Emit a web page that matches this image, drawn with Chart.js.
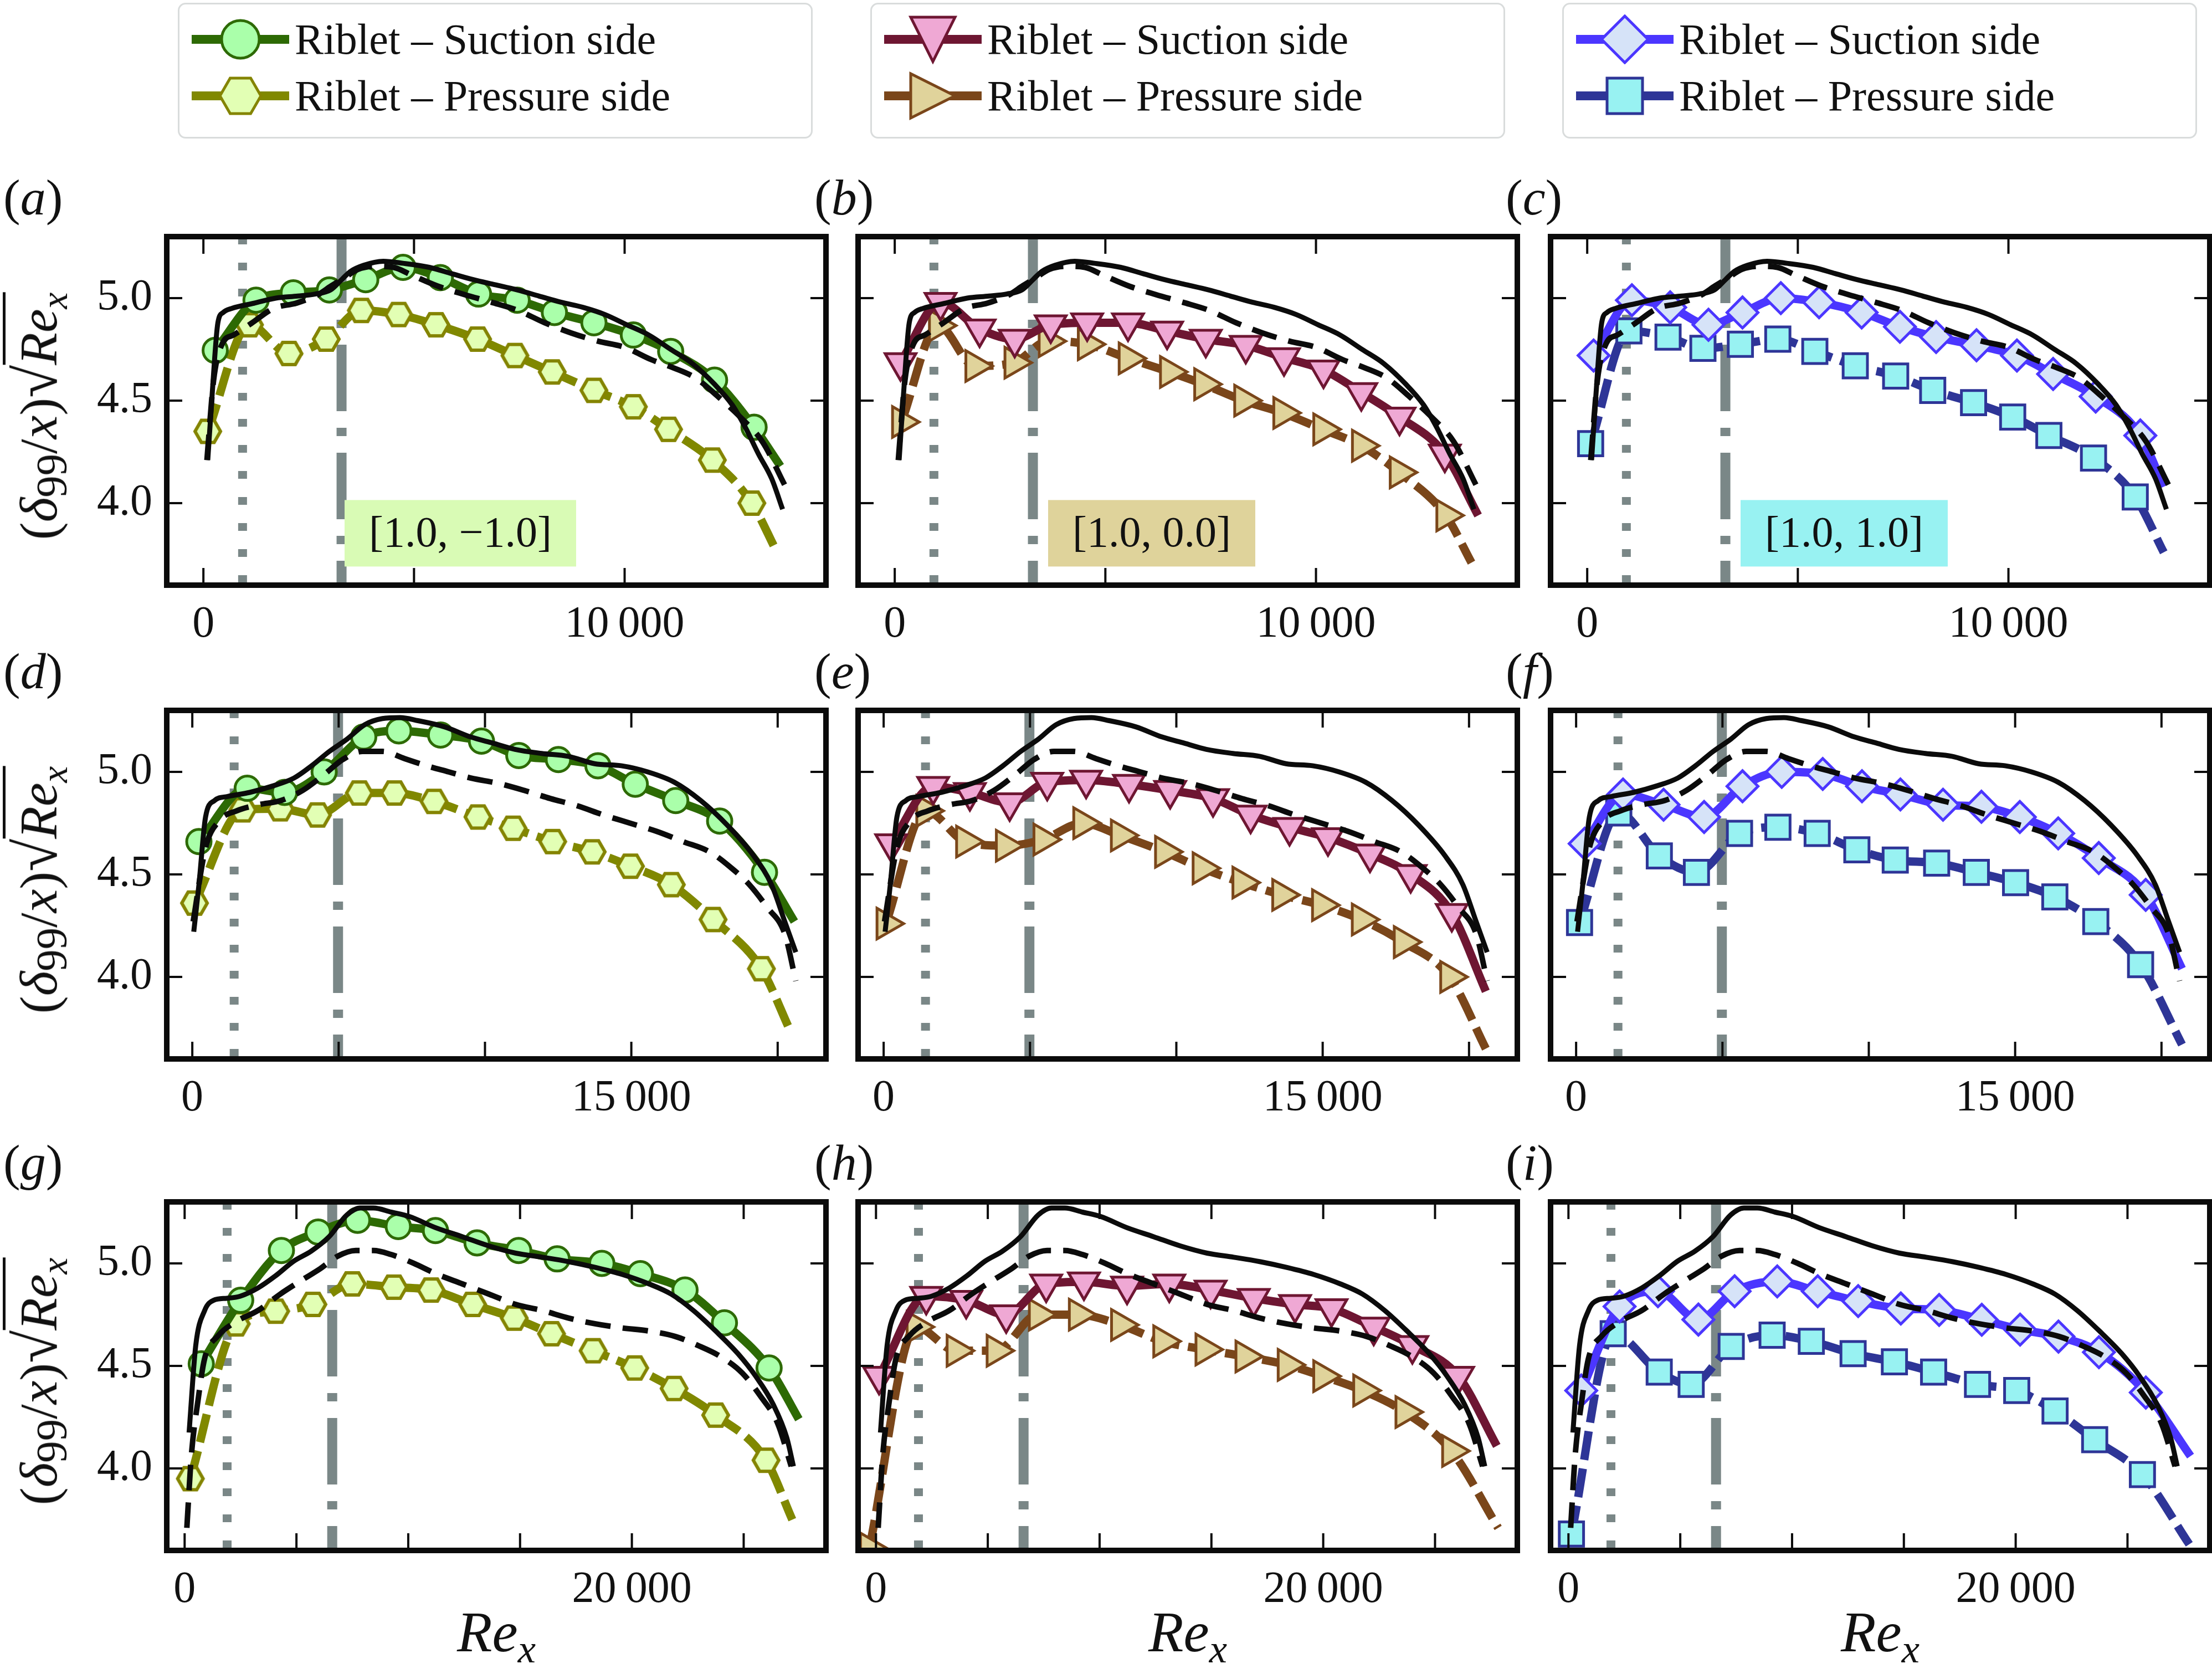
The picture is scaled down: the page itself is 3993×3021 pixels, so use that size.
<!DOCTYPE html>
<html>
<head>
<meta charset="utf-8">
<title>delta99 sqrt(Re_x) - riblets</title>
<script src="https://cdn.jsdelivr.net/npm/chart.js@4.4.1/dist/chart.umd.min.js"></script>
<style>
  html, body { margin: 0; padding: 0; background: #fff; }
  body { width: 3993px; height: 3021px; position: relative; overflow: hidden;
         font-family: 'Liberation Serif', 'DejaVu Serif', serif; color: #111; }
  canvas.pn { position: absolute; }
  .leg { position: absolute; top: 5px; width: 1146px; height: 245px; box-sizing: border-box;
         border: 3px solid #d9dcdc; border-radius: 14px; background: #fff; }
  .leg .it { position: absolute; left: 0; width: 100%; height: 90px; }
  .leg canvas { position: absolute; left: 20px; top: 0; }
  .leg span { position: absolute; left: 208px; top: 0; font-size: 78px; line-height: 90px; white-space: nowrap; }
  .plab { position: absolute; font-size: 92px; line-height: 92px; white-space: nowrap; }
  .ytit { position: absolute; font-size: 96px; line-height: 120px; white-space: nowrap;
          transform: translate(-50%, -50%) rotate(-90deg); }
  .ytit sub.n { font-size: 82%; vertical-align: -0.22em; line-height: 0; }
  .ytit sub, .xtit sub { font-size: 70%; vertical-align: -0.28em; line-height: 0; }
  .rad { font-size: 112%; }
  .ov { border-top: 5px solid #111; padding-top: 6px; }
  .xtit { position: absolute; font-size: 104px; line-height: 110px; white-space: nowrap;
          transform: translate(-50%, -50%); font-style: italic; }
</style>
</head>
<body>
<script>
// ---- axes ----
const yMin = 3.6, yMax = 5.3;
const yTicks = [4.0, 4.5, 5.0];
const yTickLabels = ['4.0', '4.5', '5.0'];

const xMin = [-870, -873, -800];
const xMax = [14780, 21650, 28680];
const xTicks = [
  [0, 5000, 10000],
  [0, 5000, 10000, 15000, 20000],
  [0, 5000, 10000, 15000, 20000, 25000]
];
const xTickLabels = [
  ['0', '', '10\u2009000'],
  ['0', '', '', '15\u2009000', ''],
  ['0', '', '', '', '20\u2009000', '']
];

// vertical reference lines per row (dotted, dash-dot)
const vDot = [930, 1430, 1900];
const vDashDot = [3280, 4980, 6600];

// ---- smooth-wall references (same in every panel of a row) ----
const blk1S = [[104,4.21],[208,4.53],[344,4.88],[469,4.93],[677,4.95],[1198,4.975],[1719,5.00],[2240,5.01],[2656,5.02],[3021,5.04],[3281,5.09],[3490,5.13],[3802,5.16],[4271,5.18],[4740,5.17],[5365,5.15],[5885,5.12],[6406,5.09],[6927,5.065],[7448,5.04],[7969,5.01],[8490,4.98],[9010,4.955],[9531,4.92],[10052,4.87],[10573,4.82],[11094,4.75],[11615,4.68],[12135,4.58],[12552,4.48],[12865,4.37],[13177,4.24],[13490,4.12],[13750,3.97]];
const blk1D = [[84,4.21],[243,4.60],[454,4.78],[717,4.82],[1139,4.877],[1667,4.95],[2194,4.975],[2722,5.017],[3038,5.06],[3354,5.10],[3671,5.14],[4093,5.155],[4515,5.15],[4937,5.113],[5570,5.058],[6203,5.017],[6835,4.98],[7468,4.94],[8101,4.88],[8734,4.83],[9367,4.79],[10000,4.76],[10633,4.70],[11160,4.66],[11688,4.61],[12215,4.52],[12743,4.42],[13270,4.30],[13797,4.09]];
const blk2S = [[50,4.22],[227,4.45],[453,4.78],[755,4.86],[1208,4.88],[1964,4.90],[2719,4.93],[3474,4.97],[4079,5.03],[4683,5.10],[5287,5.16],[5891,5.23],[6495,5.26],[7100,5.265],[7704,5.25],[8610,5.22],[9517,5.17],[10272,5.14],[11027,5.11],[11934,5.09],[12840,5.076],[13746,5.04],[14653,5.03],[15559,5.00],[16465,4.95],[17372,4.86],[18278,4.74],[19184,4.59],[19789,4.45],[20242,4.27],[20619,4.12]];
const blk2D = [[30,4.27],[453,4.63],[906,4.76],[1511,4.81],[2266,4.84],[3021,4.86],[3776,4.91],[4532,4.99],[5136,5.06],[5816,5.10],[6495,5.10],[7251,5.065],[8006,5.03],[8761,5.00],[9517,4.97],[10423,4.945],[11329,4.91],[12236,4.87],[13142,4.835],[14048,4.79],[14955,4.75],[15861,4.71],[16767,4.66],[17674,4.61],[18429,4.53],[19033,4.45],[19637,4.34],[20242,4.21],[20619,3.98]];
const blk3S = [[199,4.175],[497,4.60],[894,4.77],[1292,4.82],[1888,4.83],[2484,4.84],[3279,4.88],[4074,4.94],[4869,5.01],[5664,5.06],[6459,5.13],[7254,5.236],[7850,5.27],[8446,5.27],[9241,5.25],[10036,5.229],[11228,5.174],[12421,5.13],[13613,5.085],[14806,5.05],[15998,5.03],[17190,5.008],[18383,4.98],[19575,4.946],[20767,4.90],[21761,4.85],[22754,4.77],[23748,4.67],[24742,4.56],[25537,4.45],[26331,4.31],[26927,4.15],[27226,4.01]];
const blk3D = [[99,3.71],[298,4.06],[596,4.33],[894,4.536],[1490,4.646],[2285,4.715],[3279,4.77],[4273,4.85],[5266,4.92],[6061,4.974],[6856,5.036],[7651,5.063],[8446,5.063],[9241,5.043],[10235,5.001],[11228,4.95],[12421,4.90],[13613,4.85],[14806,4.80],[15998,4.77],[17190,4.733],[18383,4.705],[19575,4.685],[20767,4.67],[21960,4.643],[22953,4.60],[23947,4.547],[24940,4.465],[25735,4.355],[26530,4.217],[27127,4.01]];

// ---- riblet series: the last point of each is where the line ends (no marker) ----
const sucA = [[281,4.745],[1250,4.99],[2135,5.026],[2990,5.04],[3854,5.09],[4740,5.15],[5625,5.10],[6531,5.02],[7448,4.99],[8333,4.93],[9271,4.88],[10208,4.82],[11094,4.74],[12135,4.60],[13073,4.37],[13700,4.18]];
const preA = [[104,4.35],[1094,4.87],[2031,4.73],[2917,4.80],[3750,4.94],[4635,4.92],[5521,4.87],[6510,4.80],[7396,4.72],[8281,4.64],[9271,4.55],[10208,4.47],[11042,4.36],[12083,4.21],[13021,4.00],[13594,3.77]];
const sucB = [[137,4.686],[1087,4.98],[2015,4.85],[2848,4.80],[3703,4.87],[4568,4.88],[5538,4.88],[6466,4.84],[7384,4.80],[8333,4.77],[9241,4.71],[10179,4.65],[11076,4.54],[11983,4.42],[13059,4.24],[13850,3.94]];
const preB = [[158,4.396],[1034,4.866],[1899,4.669],[2827,4.685],[3639,4.79],[4568,4.775],[5538,4.706],[6519,4.64],[7331,4.58],[8281,4.50],[9209,4.44],[10158,4.36],[11076,4.28],[11973,4.15],[13080,3.94],[13692,3.71]];
const sucC = [[152,4.72],[1061,4.99],[1970,4.955],[2879,4.87],[3687,4.93],[4596,5.00],[5505,4.98],[6515,4.93],[7424,4.86],[8283,4.81],[9242,4.77],[10202,4.72],[11061,4.63],[12071,4.52],[13131,4.33],[13687,4.08]];
const preC = [[81,4.29],[990,4.84],[1919,4.81],[2747,4.755],[3636,4.775],[4525,4.80],[5404,4.74],[6364,4.67],[7323,4.62],[8202,4.55],[9172,4.49],[10101,4.42],[10960,4.33],[12020,4.22],[13010,4.03],[13687,3.76]];
const sucD = [[225,4.66],[1877,4.92],[3153,4.90],[4505,5.00],[5856,5.17],[7057,5.20],[8483,5.18],[9880,5.15],[11156,5.08],[12508,5.06],[13859,5.03],[15135,4.94],[16517,4.86],[18018,4.76],[19550,4.51],[20571,4.27]];
const preD = [[75,4.36],[1727,4.815],[3003,4.82],[4279,4.79],[5706,4.897],[6907,4.897],[8258,4.856],[9760,4.78],[10961,4.725],[12312,4.66],[13664,4.61],[14970,4.54],[16366,4.45],[17793,4.28],[19444,4.04],[20420,3.74]];
const sucE = [[257,4.65],[1692,4.93],[2946,4.90],[4305,4.85],[5589,4.95],[6918,4.96],[8384,4.94],[9789,4.91],[11254,4.87],[12538,4.79],[13867,4.73],[15181,4.68],[16616,4.60],[18006,4.50],[19411,4.31],[20574,3.93]];
const preE = [[76,4.26],[1435,4.81],[2795,4.66],[4154,4.64],[5438,4.67],[6798,4.75],[8082,4.69],[9592,4.61],[10876,4.53],[12236,4.46],[13595,4.40],[14955,4.35],[16314,4.28],[17749,4.17],[19335,4.00],[20574,3.65]];
const sucF = [[292,4.65],[1603,4.89],[2988,4.84],[4373,4.78],[5685,4.93],[7026,5.00],[8426,4.99],[9767,4.93],[11079,4.89],[12536,4.84],[13848,4.83],[15160,4.78],[16472,4.70],[17857,4.58],[19461,4.40],[20700,4.04]];
const preF = [[117,4.265],[1458,4.80],[2843,4.59],[4111,4.51],[5583,4.70],[6895,4.73],[8236,4.70],[9592,4.62],[10904,4.57],[12318,4.555],[13673,4.51],[15015,4.46],[16356,4.39],[17755,4.27],[19286,4.06],[20700,3.67]];
const sucG = [[744,4.51],[2506,4.82],[4327,5.063],[5971,5.153],[7733,5.21],[9554,5.18],[11218,5.16],[13077,5.10],[14937,5.063],[16660,5.022],[18657,5.00],[20380,4.95],[22377,4.87],[24139,4.71],[26136,4.49],[27467,4.24]];
const preG = [[255,3.95],[2310,4.705],[4072,4.767],[5736,4.80],[7498,4.90],[9358,4.884],[11022,4.87],[12882,4.80],[14742,4.733],[16406,4.657],[18266,4.574],[20126,4.49],[21888,4.39],[23748,4.26],[25999,4.04],[27174,3.75]];
const sucH = [[139,4.45],[2246,4.84],[4034,4.82],[5823,4.75],[7611,4.90],[9300,4.91],[11228,4.89],[13116,4.90],[14964,4.87],[16892,4.83],[18740,4.80],[20370,4.78],[22258,4.69],[23986,4.60],[26033,4.45],[27762,4.11]];
const preH = [[-298,3.61],[1789,4.69],[3577,4.574],[5366,4.574],[7254,4.75],[9043,4.75],[10930,4.70],[12818,4.62],[14706,4.58],[16494,4.546],[18382,4.505],[19972,4.45],[21760,4.38],[23649,4.275],[25735,4.085],[27822,3.71]];
const sucI = [[572,4.38],[2287,4.79],[4002,4.864],[5812,4.726],[7431,4.864],[9337,4.912],[11147,4.864],[12957,4.816],[14863,4.78],[16578,4.773],[18483,4.725],[20198,4.677],[21913,4.643],[23723,4.567],[25819,4.37],[27820,4.06]];
const preI = [[133,3.68],[2001,4.657],[4059,4.47],[5488,4.41],[7279,4.595],[9108,4.65],[10861,4.62],[12729,4.56],[14577,4.52],[16330,4.47],[18293,4.41],[20046,4.38],[21761,4.28],[23533,4.14],[25667,3.97],[27763,3.63]];

// labels
const tagText = ['[1.0, \u22121.0]', '[1.0, 0.0]', '[1.0, 1.0]'];
const tagBg = ['#d9fbb5', '#dfd39b', '#98f2f2'];
const tagX = 6100, tagY = 3.853;
const legendText = ['Riblet \u2013 Suction side', 'Riblet \u2013 Pressure side'];
const panelNames = ['a', 'b', 'c', 'd', 'e', 'f', 'g', 'h', 'i'];

// ---- layout (pixels) ----
const W = 1190, H = 629;
const colLeft = [301, 1549, 2799];
const rowTop = [427, 1282, 2169];
const padL = 220, padT = 40, padR = 40, padB = 140;

Chart.defaults.font.family = "'Liberation Serif', 'DejaVu Serif', serif";
Chart.defaults.color = '#111';

function shapePath(g, kind, x, y, r) {
  g.beginPath();
  if (kind === 'circle') g.arc(x, y, r, 0, Math.PI * 2);
  else if (kind === 'hex') {
    for (let k = 0; k < 6; k++) {
      const a = k * Math.PI / 3;
      g.lineTo(x + r * Math.cos(a), y + r * Math.sin(a));
    }
  }
  else if (kind === 'down') { g.moveTo(x - r, y - r); g.lineTo(x + r, y - r); g.lineTo(x, y + r); }
  else if (kind === 'right') { g.moveTo(x - r, y - r); g.lineTo(x + r, y); g.lineTo(x - r, y + r); }
  else if (kind === 'diamond') { g.moveTo(x, y - r); g.lineTo(x + r, y); g.lineTo(x, y + r); g.lineTo(x - r, y); }
  else if (kind === 'square') g.rect(x - r, y - r, 2 * r, 2 * r);
  g.closePath();
}

function makeHex(r, fill, edge, lw) {
  const c = document.createElement('canvas');
  const s = Math.ceil(2 * r + lw + 2);
  c.width = s; c.height = s;
  const g = c.getContext('2d');
  shapePath(g, 'hex', s / 2, s / 2, r);
  g.fillStyle = fill; g.fill();
  g.lineWidth = lw; g.strokeStyle = edge; g.stroke();
  return c;
}

const colStyle = [
  { suc: { line: '#2d6a04', fill: '#aaffaa', edge: '#2d6a04', shape: 'circle', rot: 0, r: 22, lk: 'circle', lr: 34 },
    pre: { line: '#808800', fill: '#e2ffb4', edge: '#848400', shape: null, rot: 0, r: 22, lk: 'hex', lr: 37 } },
  { suc: { line: '#6e1632', fill: '#efa8d4', edge: '#6e1632', shape: 'triangle', rot: 180, r: 32, lk: 'down', lr: 40 },
    pre: { line: '#7a461a', fill: '#e0d39b', edge: '#7a461a', shape: 'triangle', rot: 90, r: 32, lk: 'right', lr: 40 } },
  { suc: { line: '#4b36ff', fill: '#d6e3f8', edge: '#4b36ff', shape: 'rectRot', rot: 0, r: 28, lk: 'diamond', lr: 42 },
    pre: { line: '#2e3597', fill: '#98f2f2', edge: '#2e3597', shape: 'rect', rot: 0, r: 31, lk: 'square', lr: 32 } }
];
colStyle[0].pre.shape = makeHex(23, colStyle[0].pre.fill, colStyle[0].pre.edge, 6);

const blk = [[blk1S, blk1D], [blk2S, blk2D], [blk3S, blk3D]];
const panels = [
  [[sucA, preA], [sucB, preB], [sucC, preC]],
  [[sucD, preD], [sucE, preE], [sucF, preF]],
  [[sucG, preG], [sucH, preH], [sucI, preI]]
];

// frame + inward ticks on all four sides
const framePlugin = {
  id: 'frame',
  afterDatasetsDraw(chart) {
    const { ctx, chartArea: a, scales: { x, y } } = chart;
    ctx.save();
    ctx.strokeStyle = '#0b0b0b';
    ctx.lineWidth = 4;
    ctx.beginPath();
    x.ticks.forEach(t => {
      const p = x.getPixelForValue(t.value);
      ctx.moveTo(p, a.bottom); ctx.lineTo(p, a.bottom - 31);
      ctx.moveTo(p, a.top); ctx.lineTo(p, a.top + 31);
    });
    y.ticks.forEach(t => {
      const p = y.getPixelForValue(t.value);
      ctx.moveTo(a.left, p); ctx.lineTo(a.left + 28, p);
      ctx.moveTo(a.right, p); ctx.lineTo(a.right - 28, p);
    });
    ctx.stroke();
    ctx.lineWidth = 10;
    ctx.strokeRect(a.left, a.top, a.width, a.height);
    ctx.restore();
  }
};

// coloured label box, placed in data coordinates
const tagPlugin = {
  id: 'tag',
  afterDatasetsDraw(chart, args, opts) {
    if (!opts || !opts.text) return;
    const { ctx, scales: { x, y } } = chart;
    const cx = x.getPixelForValue(opts.x), cy = y.getPixelForValue(opts.y);
    ctx.save();
    ctx.font = "78px 'Liberation Serif', serif";
    const w = ctx.measureText(opts.text).width + 88, h = 120;
    ctx.fillStyle = opts.bg;
    ctx.fillRect(cx - w / 2, cy - h / 2, w, h);
    ctx.fillStyle = '#111';
    ctx.textAlign = 'center';
    ctx.textBaseline = 'middle';
    ctx.fillText(opts.text, cx, cy + 3);
    ctx.restore();
  }
};

function vline(xv, dash, width) {
  return { data: [[xv, yMax], [xv, yMin]], borderColor: '#7a8787', borderWidth: width,
           borderDash: dash, borderCapStyle: 'butt', pointRadius: 0, tension: 0, order: 6 };
}

function series(pts, st, dashed, order) {
  return {
    data: pts, order,
    borderColor: st.line, borderWidth: 15,
    borderDash: dashed ? [52, 16] : [],
    cubicInterpolationMode: 'monotone',
    pointStyle: st.shape, pointRotation: st.rot,
    pointRadius: c => (c.dataIndex === pts.length - 1 ? 0 : st.r),
    pointBackgroundColor: st.fill, pointBorderColor: st.edge, pointBorderWidth: 5
  };
}

// fixed axis boxes so every panel gets the same plot area
function fixX(s) { s.height = padB; s.paddingLeft = 0; s.paddingRight = 0; s.paddingTop = 0; s.paddingBottom = 0; }
function fixY(s) { s.width = padL; s.paddingLeft = 0; s.paddingRight = 0; s.paddingTop = 0; s.paddingBottom = 0; }

for (let r = 0; r < 3; r++) {
  for (let c = 0; c < 3; c++) {
    const cv = document.createElement('canvas');
    cv.className = 'pn';
    cv.width = padL + W + padR;
    cv.height = padT + H + padB;
    cv.style.left = (colLeft[c] - padL) + 'px';
    cv.style.top = (rowTop[r] - padT) + 'px';
    document.body.appendChild(cv);

    const [suc, pre] = panels[r][c];
    const st = colStyle[c];
    const xt = xTicks[r], xl = xTickLabels[r];

    new Chart(cv.getContext('2d'), {
      type: 'line',
      data: {
        datasets: [
          vline(vDot[r], [14, 33], 16),
          vline(vDashDot[r], [120, 30, 15, 30], 18),
          series(pre, st.pre, true, 4),
          series(suc, st.suc, false, 3),
          { data: blk[r][1], borderColor: '#0b0b0b', borderWidth: 10, borderDash: [46, 22],
            cubicInterpolationMode: 'monotone', pointRadius: 0, order: 2 },
          { data: blk[r][0], borderColor: '#0b0b0b', borderWidth: 9,
            cubicInterpolationMode: 'monotone', pointRadius: 0, order: 1 }
        ]
      },
      options: {
        responsive: false,
        devicePixelRatio: 1,
        animation: false,
        events: [],
        clip: 0,
        layout: { autoPadding: false, padding: { left: 0, top: padT, right: padR, bottom: 0 } },
        plugins: {
          legend: { display: false },
          tooltip: { enabled: false },
          tag: r === 0 ? { text: tagText[c], bg: tagBg[c], x: tagX, y: tagY } : {}
        },
        scales: {
          x: {
            type: 'linear', min: xMin[r], max: xMax[r],
            afterFit: fixX,
            afterBuildTicks: s => { s.ticks = xt.map(v => ({ value: v })); },
            grid: { display: false, drawTicks: false },
            border: { display: false },
            ticks: { autoSkip: false, maxRotation: 0, padding: 24, color: '#111',
                     font: { size: 80 }, callback: v => xl[xt.indexOf(v)] ?? '' }
          },
          y: {
            type: 'linear', min: yMin, max: yMax,
            afterFit: fixY,
            afterBuildTicks: s => { s.ticks = yTicks.map(v => ({ value: v })); },
            grid: { display: false, drawTicks: false },
            border: { display: false },
            ticks: { display: c === 0, padding: 26, color: '#111',
                     font: { size: 80 }, callback: v => yTickLabels[yTicks.indexOf(v)] ?? '' }
          }
        }
      },
      plugins: [tagPlugin, framePlugin]
    });
  }
}

// ---- legends (one per column) ----
const legendLeft = [321, 1571, 2820];
for (let c = 0; c < 3; c++) {
  const box = document.createElement('div');
  box.className = 'leg';
  box.style.left = legendLeft[c] + 'px';
  ['suc', 'pre'].forEach((k, i) => {
    const st = colStyle[c][k];
    const it = document.createElement('div');
    it.className = 'it';
    it.style.top = (i === 0 ? 18 : 120) + 'px';
    const hc = document.createElement('canvas');
    hc.width = 200; hc.height = 90;
    const g = hc.getContext('2d');
    g.strokeStyle = st.line; g.lineWidth = 16;
    g.beginPath(); g.moveTo(2, 45); g.lineTo(178, 45); g.stroke();
    shapePath(g, st.lk, 90, 45, st.lr);
    g.fillStyle = st.fill; g.fill();
    g.lineWidth = 5; g.strokeStyle = st.edge; g.stroke();
    const sp = document.createElement('span');
    sp.textContent = legendText[i];
    it.appendChild(hc); it.appendChild(sp);
    box.appendChild(it);
  });
  document.body.appendChild(box);
}

// ---- panel letters, axis titles ----
const labelLeft = [6, 1470, 2718];
for (let r = 0; r < 3; r++) {
  for (let c = 0; c < 3; c++) {
    const d = document.createElement('div');
    d.className = 'plab';
    d.style.left = labelLeft[c] + 'px';
    d.style.top = (rowTop[r] - 62 - 55) + 'px';
    d.innerHTML = '(<i>' + panelNames[r * 3 + c] + '</i>)';
    document.body.appendChild(d);
  }
  const yt = document.createElement('div');
  yt.className = 'ytit';
  yt.style.left = '68px';
  yt.style.top = (rowTop[r] + 324) + 'px';
  yt.innerHTML = '(<i>\u03b4</i><sub class="n">99</sub>/<i>x</i>)<span class="rad">\u221a</span><span class="ov"><i>Re</i><sub><i>x</i></sub></span>';
  document.body.appendChild(yt);
}
for (let c = 0; c < 3; c++) {
  const xt = document.createElement('div');
  xt.className = 'xtit';
  xt.style.left = (colLeft[c] + W / 2) + 'px';
  xt.style.top = '2945px';
  xt.innerHTML = 'Re<sub>x</sub>';
  document.body.appendChild(xt);
}
</script>
</body>
</html>
